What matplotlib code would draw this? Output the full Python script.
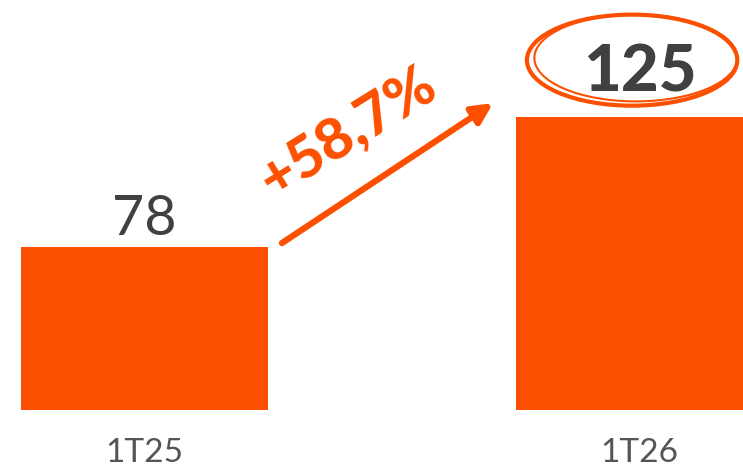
import matplotlib.pyplot as plt
from matplotlib.patches import Ellipse

# data
periods = ["1T25", "1T26"]
values = [78, 125]
growth_label = "+58,7%"

orange = "#FC5000"
dark = "#404040"
plt.rcParams['font.family'] = ['Lato', 'DejaVu Sans']

fig = plt.figure(figsize=(7.43, 4.68), dpi=100)
ax = fig.add_axes([0, 58 / 468, 1, 410 / 468])

xpos = [0, 2]
bars = ax.bar(xpos, values, width=1.0, color=orange, bottom=0)
ax.set_xlim(-0.584, 2.418)
ax.set_ylim(18.8, 167.4)

# value labels
ax.annotate(str(values[0]), (xpos[0], values[0]), xytext=(0, 8.5),
            textcoords="offset points", ha="center", va="baseline",
            fontsize=40, color=dark)
ax.annotate(str(values[1]), (xpos[1], values[1]), xytext=(0, 18),
            textcoords="offset points", ha="center", va="baseline",
            fontsize=47, fontweight="black", color=dark)

# hand drawn circle round the last value
ax.add_patch(Ellipse((1.97, 145.6), 0.85, 33, fill=False,
                     ec=orange, lw=3, clip_on=False))
ax.add_patch(Ellipse((1.985, 146.4), 0.82, 31.5, fill=False,
                     ec=orange, lw=1.5, clip_on=False))

# growth arrow
ax.annotate("", xy=(1.408, 130.0), xytext=(0.555, 79.3),
            arrowprops=dict(arrowstyle="-|>,head_length=1.2,head_width=0.6",
                            color=orange, lw=4.5, shrinkA=0, shrinkB=0))
ax.text(0.82, 119.5, growth_label, rotation=32, ha="center", va="center",
        rotation_mode="anchor", fontsize=42, fontweight="black", color=orange)

ax.set_xticks(xpos)
ax.set_xticklabels(periods, fontsize=24, color="#555555")
ax.tick_params(axis="x", length=0, pad=20)
ax.set_yticks([])
for s in ax.spines.values():
    s.set_visible(False)

fig.savefig("out.png", dpi=100)
